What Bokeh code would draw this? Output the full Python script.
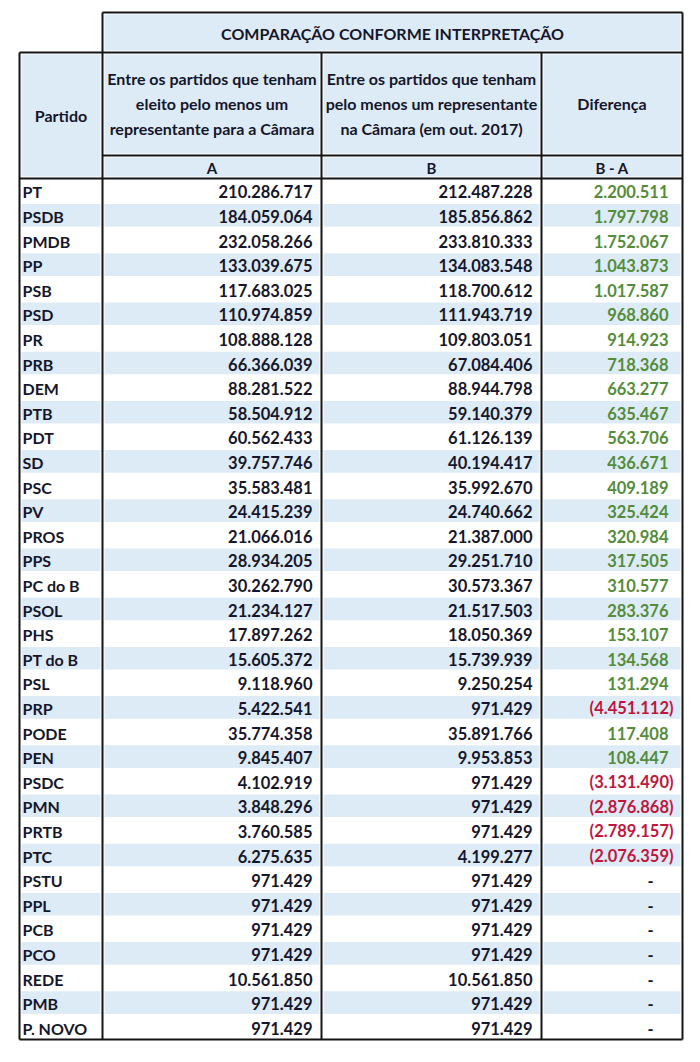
from bokeh.plotting import figure
from bokeh.models import Range1d, ColumnDataSource
from bokeh.core.properties import value
from bokeh.embed import file_html
from bokeh.resources import INLINE

title = "COMPARAÇÃO CONFORME INTERPRETAÇÃO"
header_partido = "Partido"
header_a = ["Entre os partidos que tenham", "eleito pelo menos um", "representante para a Câmara"]
header_b = ["Entre os partidos que tenham", "pelo menos um representante", "na Câmara (em out. 2017)"]
header_diff = "Diferença"
sub_labels = ["A", "B", "B - A"]

parties = ["PT", "PSDB", "PMDB", "PP", "PSB", "PSD", "PR", "PRB", "DEM", "PTB", "PDT", "SD",
           "PSC", "PV", "PROS", "PPS", "PC do B", "PSOL", "PHS", "PT do B", "PSL", "PRP",
           "PODE", "PEN", "PSDC", "PMN", "PRTB", "PTC", "PSTU", "PPL", "PCB", "PCO", "REDE",
           "PMB", "P. NOVO"]
col_a = [210286717, 184059064, 232058266, 133039675, 117683025, 110974859, 108888128,
         66366039, 88281522, 58504912, 60562433, 39757746, 35583481, 24415239, 21066016,
         28934205, 30262790, 21234127, 17897262, 15605372, 9118960, 5422541, 35774358,
         9845407, 4102919, 3848296, 3760585, 6275635, 971429, 971429, 971429, 971429,
         10561850, 971429, 971429]
col_b = [212487228, 185856862, 233810333, 134083548, 118700612, 111943719, 109803051,
         67084406, 88944798, 59140379, 61126139, 40194417, 35992670, 24740662, 21387000,
         29251710, 30573367, 21517503, 18050369, 15739939, 9250254, 971429, 35891766,
         9953853, 971429, 971429, 971429, 4199277, 971429, 971429, 971429, 971429,
         10561850, 971429, 971429]
col_diff = [2200511, 1797798, 1752067, 1043873, 1017587, 968860, 914923, 718368, 663277,
            635467, 563706, 436671, 409189, 325424, 320984, 317505, 310577, 283376, 153107,
            134568, 131294, -4451112, 117408, 108447, -3131490, -2876868, -2789157,
            -2076359, 0, 0, 0, 0, 0, 0, 0]

BAND = "#ddebf7"
INK = "#16162a"
GREEN = "#548c3a"
RED = "#c0163c"
LINE = "#151515"
FONT = value("Lato")


def fmt(v):
    return f"{abs(v):,}".replace(",", ".")


# layout (pixel coordinates of the page image)
X0, X1, X2, X3, X4 = 19, 102, 321, 541, 682
Y_TITLE, Y_HEAD, Y_SUB, Y_DATA, Y_END = 12, 52, 155, 178, 1039
n = len(parties)
rh = (Y_END - Y_DATA) / n

p = figure(width=684, height=1046, x_range=Range1d(0, 684), y_range=Range1d(1046, 0),
           output_backend="svg", toolbar_location=None, min_border=0)
p.axis.visible = False
p.grid.visible = False
p.outline_line_color = None
p.background_fill_color = "white"

# header fills
ins = 2
p.quad(left=[X1 + ins], right=[X4 - ins], top=[Y_TITLE + ins], bottom=[Y_HEAD - ins],
       fill_color=BAND, line_color=None)
p.quad(left=[X0 + ins], right=[X1 - ins], top=[Y_HEAD + ins], bottom=[Y_DATA - ins],
       fill_color=BAND, line_color=None)
for l, r in [(X1, X2), (X2, X3), (X3, X4)]:
    p.quad(left=[l + ins], right=[r - ins], top=[Y_HEAD + ins], bottom=[Y_SUB - ins],
           fill_color=BAND, line_color=None)
    p.quad(left=[l + ins], right=[r - ins], top=[Y_SUB + ins], bottom=[Y_DATA - ins],
           fill_color=BAND, line_color=None)

# banded rows
bl, br, bt, bb = [], [], [], []
for i in range(n):
    if i % 2 == 1:
        top = Y_DATA + i * rh
        for l, r in [(X0, X1), (X1, X2), (X2, X3), (X3, X4)]:
            bl.append(l + ins)
            br.append(r - ins)
            bt.append(top + 1)
            bb.append(top + rh - 1)
p.quad(left=bl, right=br, top=bt, bottom=bb, fill_color=BAND, line_color=None)

# grid lines
hx0 = [X1, X0, X1, X0, X0]
hx1 = [X4, X4, X4, X4, X4]
hy = [Y_TITLE, Y_HEAD, Y_SUB, Y_DATA, Y_END]
p.segment(x0=hx0, y0=hy, x1=hx1, y1=hy, line_color=LINE, line_width=2)
vx = [X0, X1, X2, X3, X4]
vy0 = [Y_HEAD, Y_TITLE, Y_HEAD, Y_HEAD, Y_TITLE]
p.segment(x0=vx, y0=vy0, x1=vx, y1=[Y_END] * 5, line_color=LINE, line_width=2)

HS = "16px"
# header texts
p.text(x=[(X1 + X4) / 2], y=[(Y_TITLE + Y_HEAD) / 2 + 1], text=[title], text_font=FONT,
       text_font_style="bold", text_font_size="16px", text_color=INK,
       text_align="center", text_baseline="middle")
p.text(x=[(X0 + X1) / 2], y=[(Y_HEAD + Y_DATA) / 2], text=[header_partido], text_font=FONT,
       text_font_style="bold", text_font_size=HS, text_color=INK,
       text_align="center", text_baseline="middle")
hy_lines = [78, 103, 128]
p.text(x=[(X1 + X2) / 2] * 3, y=hy_lines, text=header_a, text_font=FONT,
       text_font_style="bold", text_font_size=HS, text_color=INK,
       text_align="center", text_baseline="middle")
p.text(x=[(X2 + X3) / 2] * 3, y=hy_lines, text=header_b, text_font=FONT,
       text_font_style="bold", text_font_size=HS, text_color=INK,
       text_align="center", text_baseline="middle")
p.text(x=[(X3 + X4) / 2], y=[103], text=[header_diff], text_font=FONT,
       text_font_style="bold", text_font_size=HS, text_color=INK,
       text_align="center", text_baseline="middle")
p.text(x=[(X1 + X2) / 2, (X2 + X3) / 2, (X3 + X4) / 2], y=[(Y_SUB + Y_DATA) / 2 + 1] * 3,
       text=sub_labels, text_font=FONT, text_font_style="bold", text_font_size="15px",
       text_color=INK, text_align="center", text_baseline="middle")

# data texts
ys = [Y_DATA + (i + 0.5) * rh + 1 for i in range(n)]
src = ColumnDataSource(dict(
    y=ys, party=parties,
    a=[fmt(v) for v in col_a],
    b=[fmt(v) for v in col_b],
))
DS = "16.5px"
p.text(x=X0 + 3, y="y", text="party", source=src, text_font=FONT, text_font_style="bold",
       text_font_size="16px", text_color=INK, text_align="left", text_baseline="middle")
p.text(x=X2 - 9, y="y", text="a", source=src, text_font=FONT, text_font_style="bold",
       text_font_size=DS, text_color=INK, text_align="right", text_baseline="middle")
p.text(x=X3 - 9, y="y", text="b", source=src, text_font=FONT, text_font_style="bold",
       text_font_size=DS, text_color=INK, text_align="right", text_baseline="middle")

pos_y, pos_t, neg_y, neg_t, zero_y = [], [], [], [], []
for y, d in zip(ys, col_diff):
    if d > 0:
        pos_y.append(y); pos_t.append(fmt(d))
    elif d < 0:
        neg_y.append(y); neg_t.append("(" + fmt(d) + ")")
    else:
        zero_y.append(y)
p.text(x=[X4 - 14] * len(pos_y), y=pos_y, text=pos_t, text_font=FONT, text_font_style="bold",
       text_font_size=DS, text_color=GREEN, text_align="right", text_baseline="middle")
p.text(x=[X4 - 9] * len(neg_y), y=neg_y, text=neg_t, text_font=FONT, text_font_style="bold",
       text_font_size=DS, text_color=RED, text_align="right", text_baseline="middle")
p.text(x=[X4 - 32] * len(zero_y), y=zero_y, text=["-"] * len(zero_y), text_font=FONT,
       text_font_style="bold", text_font_size=DS, text_color=INK, text_align="center",
       text_baseline="middle")

open("out.html", "w").write(file_html(p, INLINE))
